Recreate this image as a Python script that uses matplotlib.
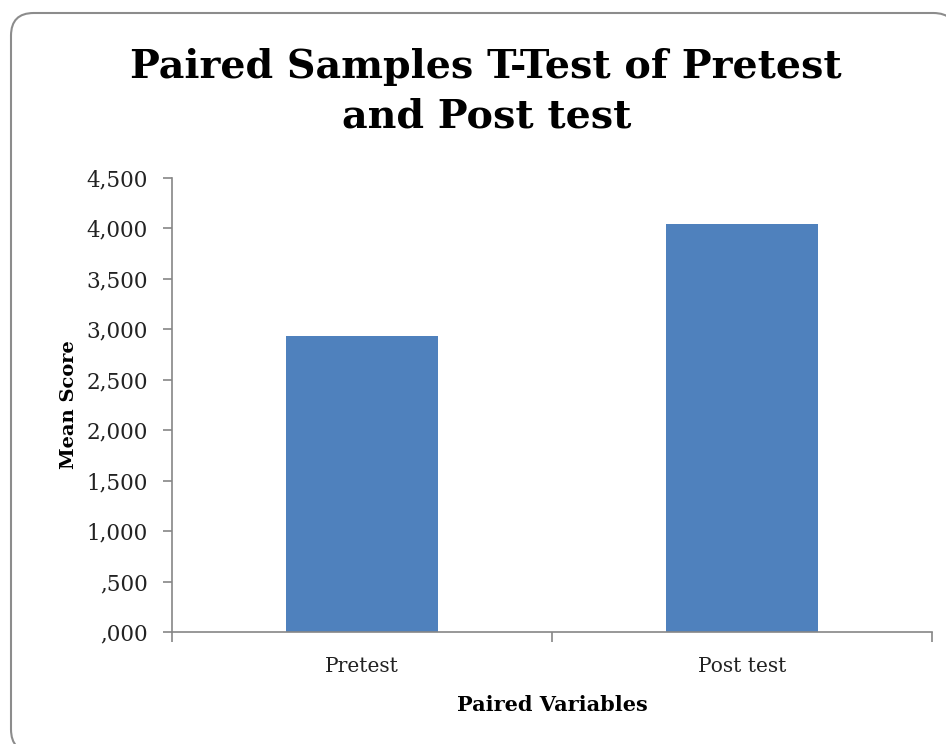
import matplotlib
matplotlib.use("Agg")
import matplotlib.pyplot as plt
from matplotlib.patches import FancyBboxPatch
from matplotlib.ticker import FixedLocator, FixedFormatter

categories = ["Pretest", "Post test"]
values = [2935, 4043]
yticks = [0, 500, 1000, 1500, 2000, 2500, 3000, 3500, 4000, 4500]
ytick_labels = [",000", ",500", "1,000", "1,500", "2,000", "2,500", "3,000", "3,500", "4,000", "4,500"]

serif = ["DejaVu Serif"]
fig = plt.figure(figsize=(9.46, 7.44), dpi=100)
fig.patch.set_facecolor("white")

box = FancyBboxPatch((11/946, -8/744), 945/946, 739/744, boxstyle="round,pad=0,rounding_size=0.024",
                     transform=fig.transFigure, facecolor="white", edgecolor="#8c8c8c",
                     linewidth=1.5, mutation_aspect=946/744, zorder=0)
fig.patches.append(box)

ax = fig.add_axes([0.1818, 0.1505, 0.8034, 0.6103])
ax.set_zorder(2)
ax.patch.set_alpha(0)
x = list(range(len(categories)))
ax.bar(x, values, width=0.4, color="#4F81BD", zorder=2)
ax.set_xlim(-0.5, 1.5)
ax.set_ylim(0, 4500)

ax.yaxis.set_major_locator(FixedLocator(yticks))
ax.yaxis.set_major_formatter(FixedFormatter(ytick_labels))
ax.set_xticks(x)
ax.set_xticklabels(categories)
ax.set_xticks([-0.5, 0.5, 1.5], minor=True)
ax.tick_params(axis="x", which="major", length=0, pad=18, labelsize=14.5, colors="#222222")
ax.tick_params(axis="x", which="minor", length=7, width=1.2, color="#868686", direction="out")
ax.tick_params(axis="y", length=6.5, width=1.2, color="#868686", direction="out", pad=11,
               labelsize=15.5, labelcolor="#222222")
for lab in ax.get_xticklabels() + ax.get_yticklabels():
    lab.set_family(serif)

for s in ["top", "right"]:
    ax.spines[s].set_visible(False)
for s in ["left", "bottom"]:
    ax.spines[s].set_color("#868686")
    ax.spines[s].set_linewidth(1.2)

ax.set_ylabel("Mean Score", family=serif, fontweight="bold", fontsize=14, labelpad=6)
ax.set_xlabel("Paired Variables", family=serif, fontweight="bold", fontsize=15, labelpad=14)

fig.text(0.514, 0.877, "Paired Samples T-Test of Pretest\nand Post test", ha="center", va="center",
         family=serif, fontweight="bold", fontsize=28.5, linespacing=1.38)

fig.savefig("out.png", dpi=100)
